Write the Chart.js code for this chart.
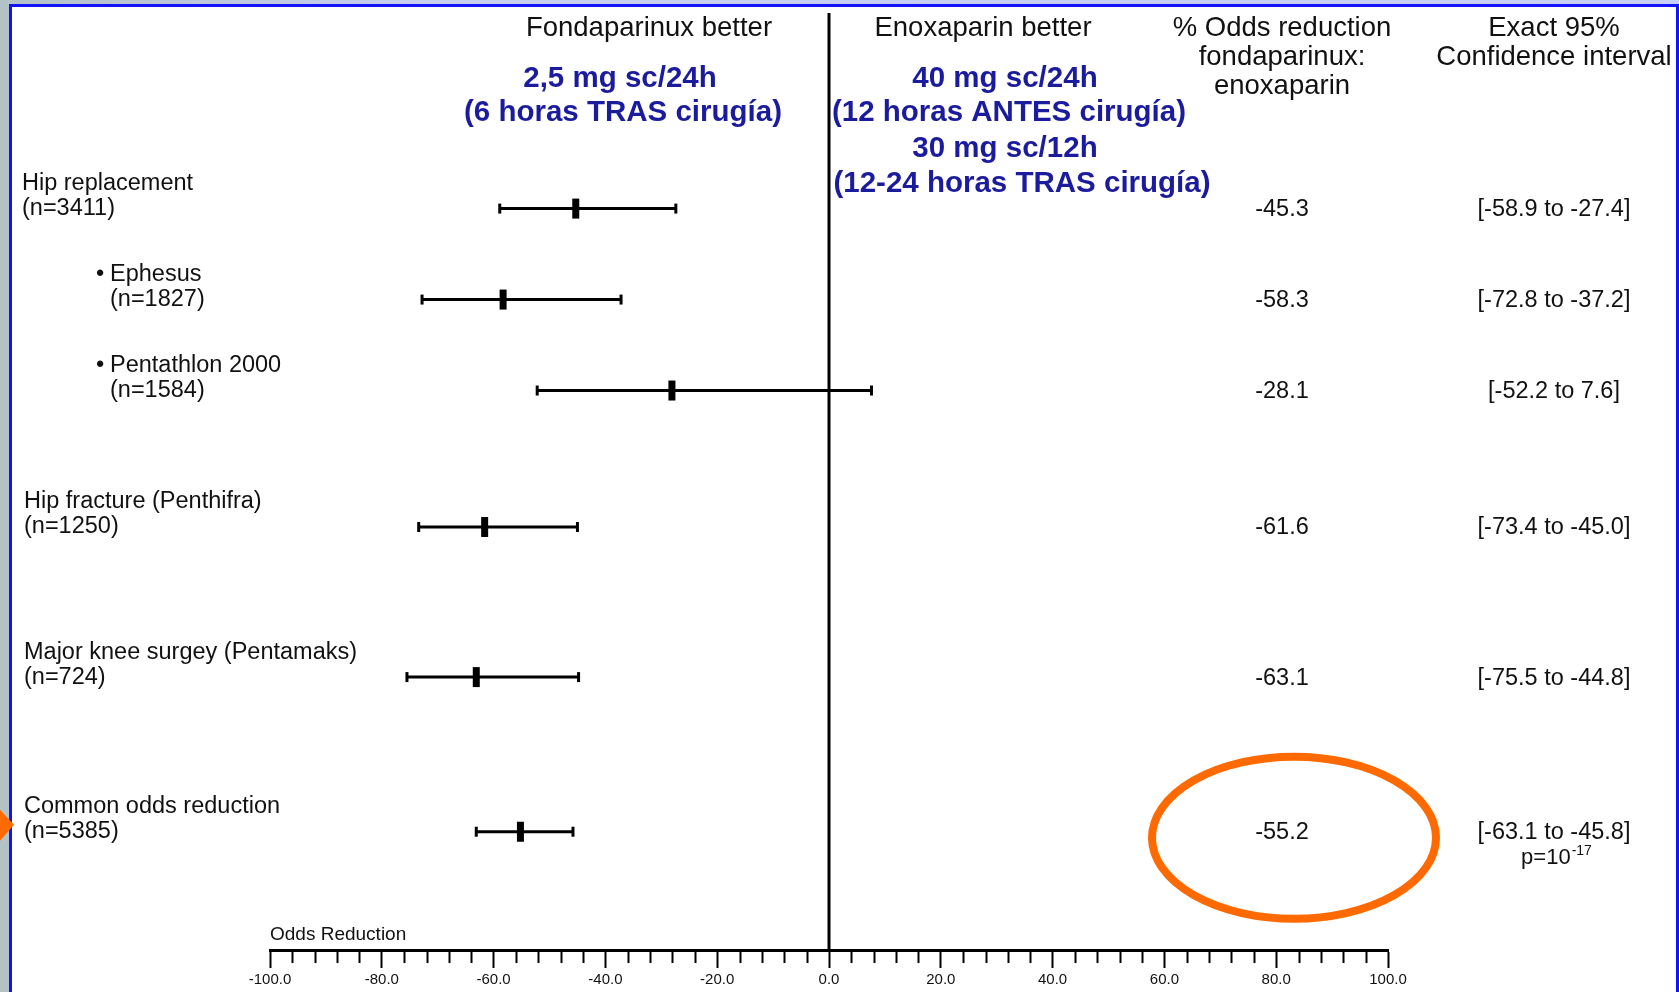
<!DOCTYPE html>
<html>
<head>
<meta charset="utf-8">
<script src="https://cdn.jsdelivr.net/npm/chart.js@4.4.1/dist/chart.umd.min.js"></script>
<style>
    html, body { margin: 0; padding: 0; width: 1679px; height: 992px; overflow: hidden; background: #b3c2c6; }
    #strip { position: absolute; left: 0; top: 0; width: 1679px; height: 4px;
             background: linear-gradient(to right, #b3c2c6, #c6cdf0 25%, #c8cff6); }
    #panel { position: absolute; left: 9px; top: 4px; width: 1664px; height: 1000px;
             background: #fff; border: 3px solid #1212ff; }
    #wrap { position: absolute; left: 0; top: 0; width: 1679px; height: 992px; }
</style>
</head>
<body>
<div id="strip"></div>
<div id="panel"></div>
<div id="wrap"><canvas id="forest"></canvas></div>
<script>
    // trial groups, top to bottom
    var rowTitle = ['Hip replacement', 'Ephesus', 'Pentathlon 2000', 'Hip fracture (Penthifra)',
                    'Major knee surgey (Pentamaks)', 'Common odds reduction'];
    var rowN = ['(n=3411)', '(n=1827)', '(n=1584)', '(n=1250)', '(n=724)', '(n=5385)'];
    var isSubgroup = [false, true, true, false, false, false];

    // % odds reduction fondaparinux : enoxaparin, with exact 95% CI
    var oddsReduction = [-45.3, -58.3, -28.1, -61.6, -63.1, -55.2];
    var ciLow = [-58.9, -72.8, -52.2, -73.4, -75.5, -63.1];
    var ciHigh = [-27.4, -37.2, 7.6, -45.0, -44.8, -45.8];
    var pValueExp = '-17';

    // x axis: odds reduction
    var xMin = -100, xMax = 100, xStep = 4, xLabelEvery = 20;

    // vertical layout of rows (row units, not data)
    var rowPos = [1, 2, 3, 4.5, 6.15, 7.85];
    var yMin = -1.15, yMax = 9.15;

    var ink = '#111';
    var blue = '#1b1b9e';
    var sans = '"Liberation Sans", Arial, sans-serif';

    function isMajor(v) {
        return Math.abs(Math.round(v)) % xLabelEvery === 0;
    }

    function put(ctx, str, x, y, font, align, color) {
        ctx.font = font;
        ctx.textAlign = align;
        ctx.fillStyle = color || ink;
        ctx.fillText(str, x, y);
    }

    var annotate = {
        id: 'annotate',
        afterDraw: function (chart) {
            var ctx = chart.ctx;
            var xs = chart.scales.x, ys = chart.scales.y;
            ctx.save();
            ctx.textBaseline = 'middle';

            // minor ticks on the odds reduction axis
            ctx.strokeStyle = '#000';
            ctx.lineWidth = 2;
            xs.ticks.forEach(function (t) {
                if (isMajor(t.value)) return;
                var px = Math.round(xs.getPixelForValue(t.value)) + 0.5;
                ctx.beginPath();
                ctx.moveTo(px, xs.top);
                ctx.lineTo(px, xs.top + 13);
                ctx.stroke();
            });
            put(ctx, 'Odds Reduction', xs.left, xs.top - 15, '19px ' + sans, 'left');

            // column headers
            var hf = '27.5px ' + sans;
            put(ctx, 'Fondaparinux better', 649, 28, hf, 'center');
            put(ctx, 'Enoxaparin better', 983, 28, hf, 'center');
            put(ctx, '% Odds reduction', 1282, 28, hf, 'center');
            put(ctx, 'fondaparinux:', 1282, 57, hf, 'center');
            put(ctx, 'enoxaparin', 1282, 86, hf, 'center');
            put(ctx, 'Exact 95%', 1554, 28, hf, 'center');
            put(ctx, 'Confidence interval', 1554, 57, hf, 'center');

            // dosing notes
            var bf = 'bold 29.5px ' + sans;
            put(ctx, '2,5 mg sc/24h', 620, 79, bf, 'center', blue);
            put(ctx, '(6 horas TRAS cirugía)', 623, 113, bf, 'center', blue);
            put(ctx, '40 mg sc/24h', 1005, 79, bf, 'center', blue);
            put(ctx, '(12 horas ANTES cirugía)', 1009, 113, bf, 'center', blue);
            put(ctx, '30 mg sc/12h', 1005, 149, bf, 'center', blue);
            put(ctx, '(12-24 horas TRAS cirugía)', 1022, 184, bf, 'center', blue);

            // row labels and table columns
            var rf = '23.5px ' + sans;
            rowPos.forEach(function (r, i) {
                var py = ys.getPixelForValue(r);
                var lx = isSubgroup[i] ? 110 : 22 + (i > 2 ? 2 : 0);
                if (isSubgroup[i]) put(ctx, '•', 96, py - 25, rf, 'left');
                put(ctx, rowTitle[i], lx, py - 25, rf, 'left');
                put(ctx, rowN[i], lx, py, rf, 'left');
                put(ctx, oddsReduction[i].toFixed(1), 1282, py + 1, rf, 'center');
                put(ctx, '[' + ciLow[i].toFixed(1) + ' to ' + ciHigh[i].toFixed(1) + ']', 1554, py + 1, rf, 'center');
            });

            // p value under the pooled row
            var last = ys.getPixelForValue(rowPos[rowPos.length - 1]);
            ctx.font = '22px ' + sans;
            var w1 = ctx.measureText('p=10').width;
            ctx.font = '14px ' + sans;
            var w2 = ctx.measureText(pValueExp).width;
            var px0 = 1556 - (w1 + w2) / 2;
            put(ctx, 'p=10', px0, last + 26, '22px ' + sans, 'left');
            put(ctx, pValueExp, px0 + w1 + 1, last + 19, '14px ' + sans, 'left');

            // orange highlight round the pooled result + pointer on the left
            ctx.strokeStyle = '#ff6a00';
            ctx.lineWidth = 8;
            ctx.beginPath();
            ctx.ellipse(1294, last + 6, 142, 81, 0, 0, Math.PI * 2);
            ctx.stroke();
            ctx.fillStyle = '#ff6a00';
            ctx.beginPath();
            ctx.moveTo(0, last - 22);
            ctx.lineTo(14, last - 7);
            ctx.lineTo(0, last + 9);
            ctx.closePath();
            ctx.fill();

            ctx.restore();
        }
    };

    var datasets = [];

    datasets.push({
        label: 'Odds reduction',
        data: oddsReduction.map(function (v, i) { return { x: v, y: rowPos[i] }; }),
        pointStyle: 'line',
        rotation: 90,
        radius: 10,
        borderWidth: 7,
        borderColor: '#000',
        backgroundColor: '#000'
    });

    ciLow.forEach(function (lo, i) {
        datasets.push({
            label: 'CI ' + rowTitle[i],
            data: [{ x: lo, y: rowPos[i] }, { x: ciHigh[i], y: rowPos[i] }],
            showLine: true,
            borderColor: '#000',
            borderWidth: 3,
            pointStyle: 'line',
            pointRotation: 90,
            pointRadius: 5,
            pointBorderWidth: 3,
            pointBorderColor: '#000'
        });
    });

    datasets.push({
        label: 'No effect',
        data: [{ x: 0, y: yMin }, { x: 0, y: yMax }],
        showLine: true,
        borderColor: '#000',
        borderWidth: 3,
        pointRadius: 0
    });

    var ctx = document.getElementById('forest').getContext('2d');
    new Chart(ctx, {
        type: 'scatter',
        data: { datasets: datasets },
        options: {
            animation: false,
            responsive: true,
            maintainAspectRatio: false,
            events: [],
            layout: { autoPadding: false, padding: { left: 270, right: 291, top: 13, bottom: 0 } },
            plugins: {
                legend: { display: false },
                tooltip: { enabled: false }
            },
            scales: {
                x: {
                    type: 'linear',
                    position: 'bottom',
                    min: xMin,
                    max: xMax,
                    afterFit: function (scale) { scale.height = 42; },
                    border: { display: true, color: '#000', width: 3 },
                    grid: {
                        drawOnChartArea: false,
                        tickLength: 18,
                        tickWidth: 2,
                        tickColor: function (c) {
                            return c.tick && isMajor(c.tick.value) ? '#000' : 'rgba(0,0,0,0)';
                        }
                    },
                    ticks: {
                        stepSize: xStep,
                        autoSkip: false,
                        maxRotation: 0,
                        padding: 3,
                        color: ink,
                        font: { family: sans, size: 15 },
                        callback: function (v) { return isMajor(v) ? v.toFixed(1) : ''; }
                    }
                },
                y: {
                    type: 'linear',
                    reverse: true,
                    min: yMin,
                    max: yMax,
                    display: false
                }
            }
        },
        plugins: [annotate]
    });
</script>
</body>
</html>
